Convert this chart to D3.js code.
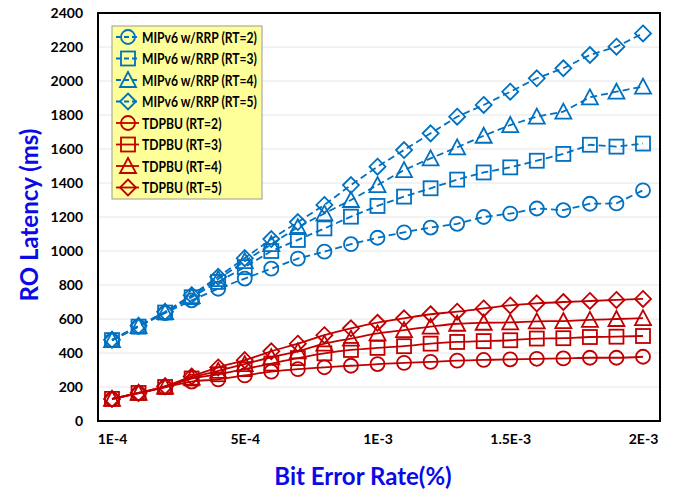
<!DOCTYPE html>
<html>
<head>
<meta charset="utf-8">
<title>RO Latency</title>
<style>
  body{margin:0;background:#fff;}
  text{font-family:Lato,"Open Sans",sans-serif;font-weight:bold;}
  .tick{font-size:14px;fill:#000;}
  .title{font-size:24px;fill:#0a0ae6;}
  .leg{font-size:16px;fill:#000;}
</style>
<script src="https://d3js.org/d3.v7.min.js"></script>
</head>
<body>
<script>
// x categories (bit error rate), 21 points, labels shown every 5th
var xIndex=d3.range(21);
var xTickPos=[0,5,10,15,20];
var xTickLabels=["1E-4","5E-4","1E-3","1.5E-3","2E-3"];
var yTicks=[0,200,400,600,800,1000,1200,1400,1600,1800,2000,2200,2400];

var mipRT2=[474,555,635,710,778,838,896,955,996,1040,1078,1110,1138,1160,1200,1220,1250,1240,1278,1280,1357];
var mipRT3=[476,555,638,728,818,905,1000,1065,1133,1202,1265,1320,1369,1420,1462,1492,1531,1571,1625,1614,1632];
var mipRT4=[476,558,640,735,835,940,1040,1140,1221,1300,1388,1476,1545,1610,1678,1741,1790,1820,1904,1937,1967];
var mipRT5=[478,560,642,740,848,958,1070,1170,1271,1388,1496,1594,1692,1790,1859,1937,2016,2075,2153,2202,2280];
var tdRT2=[128,162,198,232,245,268,290,305,316,325,335,342,348,355,359,363,366,368,372,372,378];
var tdRT3=[130,165,200,250,275,305,338,370,398,418,430,440,455,465,470,475,485,487,494,496,500];
var tdRT4=[130,165,202,255,295,335,375,410,455,485,515,535,555,572,578,580,586,588,595,600,605];
var tdRT5=[130,165,205,262,315,358,410,455,505,545,578,604,628,643,662,680,692,700,706,712,718];

var seriesNames=["MIPv6 w/RRP (RT=2)","MIPv6 w/RRP (RT=3)","MIPv6 w/RRP (RT=4)","MIPv6 w/RRP (RT=5)",
                 "TDPBU (RT=2)","TDPBU (RT=3)","TDPBU (RT=4)","TDPBU (RT=5)"];
var seriesValues=[mipRT2,mipRT3,mipRT4,mipRT5,tdRT2,tdRT3,tdRT4,tdRT5];
var seriesShapes=["circle","square","triangle","diamond","circle","square","triangle","diamond"];

var blue="#0070c0",red="#c00000";
var width=680,height=491;
var svg=d3.select("body").append("svg").attr("width",width).attr("height",height);

var x=d3.scaleLinear().domain([0,20]).range([112,643]);
var y=d3.scaleLinear().domain([0,2400]).range([421,13]);
var frame={l:98,r:660,t:13,b:421};

// grid
svg.append("g").selectAll("line").data(yTicks.slice(1,-1)).enter().append("line")
   .attr("x1",frame.l).attr("x2",frame.r)
   .attr("y1",function(d){return y(d);}).attr("y2",function(d){return y(d);})
   .attr("stroke","#e6e6e6").attr("stroke-width",1);

// axes labels
var yAxis=d3.axisLeft(y).tickValues(yTicks).tickSize(0).tickPadding(15).tickFormat(d3.format("d"));
svg.append("g").attr("transform","translate("+frame.l+",0)").call(yAxis)
   .call(function(g){g.select(".domain").remove();})
   .selectAll("text").attr("class","tick").attr("dy","0.35em");
var xAxis=d3.axisBottom(x).tickValues(xTickPos).tickSize(0).tickPadding(13)
   .tickFormat(function(d,i){return xTickLabels[i];});
svg.append("g").attr("transform","translate(0,"+frame.b+")").call(xAxis)
   .call(function(g){g.select(".domain").remove();})
   .selectAll("text").attr("class","tick");

// symbols
function marker(g,shape,color,cx,cy){
    var s=7;
    if(shape=="circle"){
        g.append("circle").attr("cx",cx).attr("cy",cy).attr("r",s);
    }else if(shape=="square"){
        g.append("rect").attr("x",cx-s).attr("y",cy-s).attr("width",2*s).attr("height",2*s);
    }else if(shape=="triangle"){
        g.append("path").attr("d","M"+cx+","+(cy-s-1)+"L"+(cx+s+1)+","+(cy+s)+"L"+(cx-s-1)+","+(cy+s)+"Z");
    }else{
        g.append("path").attr("d","M"+cx+","+(cy-s-1)+"L"+(cx+s+1)+","+cy+"L"+cx+","+(cy+s+1)+"L"+(cx-s-1)+","+cy+"Z");
    }
}

var plot=svg.append("g");
seriesValues.forEach(function(vals,k){
    var color=k<4?blue:red;
    var line=d3.line().x(function(d,i){return x(i);}).y(function(d){return y(d);})
        .curve(k<4?d3.curveLinear:d3.curveMonotoneX);
    var g=plot.append("g").attr("fill","none").attr("stroke",color).attr("stroke-width",1.8);
    g.append("path").attr("d",line(vals))
     .attr("stroke-dasharray",k<4?"7,4":null);
    vals.forEach(function(v,i){marker(g,seriesShapes[k],color,x(i),y(v));});
});

// frame
svg.append("rect").attr("x",frame.l).attr("y",frame.t)
   .attr("width",frame.r-frame.l).attr("height",frame.b-frame.t)
   .attr("fill","none").attr("stroke","#000").attr("stroke-width",2);

// legend
var lg=svg.append("g").attr("transform","translate(112,26)");
lg.append("rect").attr("width",150).attr("height",173)
  .attr("fill","#ffff99").attr("stroke","#999").attr("stroke-width",1);
var legTexts=[];
seriesNames.forEach(function(name,k){
    var color=k<4?blue:red;
    var cy=11+k*21.5;
    var g=lg.append("g").attr("fill","none").attr("stroke",color).attr("stroke-width",1.8);
    g.append("line").attr("x1",4).attr("x2",27).attr("y1",cy).attr("y2",cy)
     .attr("stroke-dasharray",k<4?"5,3":null);
    marker(g,seriesShapes[k],color,16,cy);
    legTexts.push(lg.append("text").attr("class","leg").attr("dy","0.35em").attr("data-y",cy).text(name));
});
// squeeze text so the longest entry fits like the narrow original font
var longest=d3.max(legTexts,function(t){return t.node().getComputedTextLength();});
var sx=Math.min(1,115/longest);
legTexts.forEach(function(t){
    t.attr("transform","translate(30,"+t.attr("data-y")+") scale("+sx+",1)");
});

// titles
svg.append("text").attr("class","title").attr("text-anchor","middle")
   .attr("transform","translate(38,215) rotate(-90)").text("RO Latency (ms)");
svg.append("text").attr("class","title").attr("text-anchor","middle")
   .attr("x",363).attr("y",485).text("Bit Error Rate(%)");
</script>
</body>
</html>
